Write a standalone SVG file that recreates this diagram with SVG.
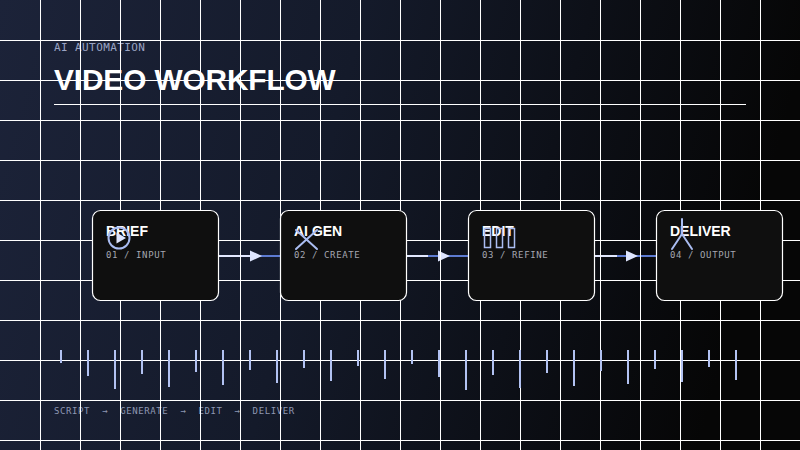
<svg xmlns="http://www.w3.org/2000/svg" width="800" height="450" viewBox="0 0 800 450">
  <defs>
    <linearGradient id="bg" x1="0" y1="0" x2="1" y2="0.15">
      <stop offset="0" stop-color="#1c2339"/>
      <stop offset="0.45" stop-color="#141a2a"/>
      <stop offset="1" stop-color="#060606"/>
    </linearGradient>
    <style>
      .grid line { stroke: #ffffff; stroke-width: 1; }
      .box { fill: #0f0f0f; stroke: #ffffff; stroke-width: 1.2; }
      .title { font-family: "Liberation Sans", Arial, sans-serif; font-weight: bold; font-size: 14px; fill: #ffffff; }
      .sub { font-family: "DejaVu Sans Mono", monospace; font-size: 9px; letter-spacing: 0.6px; fill: #a4a6b0; }
      .icon { stroke: #aabdf2; stroke-width: 2; fill: none; stroke-linecap: round; }
      .base { stroke: #5d7bd2; stroke-width: 2; }
      .pulse { stroke: #e2e8ff; stroke-width: 2; }
      .arrow { fill: #dfe6ff; }
      .bar { fill: #b2c2f2; }
    </style>
  </defs>

  <rect x="0" y="0" width="800" height="450" fill="url(#bg)"/>

  <text x="54" y="51" font-family="DejaVu Sans Mono, monospace" font-size="11" letter-spacing="0.4" fill="#9aa4c4">AI AUTOMATION</text>
  <text x="54" y="90" font-family="Liberation Sans, Arial, sans-serif" font-weight="bold" font-size="29.8" letter-spacing="-0.1" fill="#ffffff">VIDEO WORKFLOW</text>
  <line x1="54" y1="104.5" x2="746" y2="104.5" stroke="#ffffff" stroke-width="1"/>

  <g id="connectors">
    <line class="base" x1="218.5" y1="256" x2="280.5" y2="256"/>
    <line class="pulse" x1="219" y1="256" x2="251" y2="256"/>
    <polygon class="arrow" points="250,250.5 262,256 250,261.5"/>
    <line class="base" x1="406.5" y1="256" x2="468.5" y2="256"/>
    <line class="pulse" x1="407" y1="256" x2="428" y2="256"/>
    <polygon class="arrow" points="438,250.5 450,256 438,261.5"/>
    <line class="base" x1="594.5" y1="256" x2="656.5" y2="256"/>
    <line class="pulse" x1="595" y1="256" x2="617" y2="256"/>
    <polygon class="arrow" points="626,250.5 638,256 626,261.5"/>
  </g>

  <text x="54" y="414" font-family="DejaVu Sans Mono, monospace" font-size="9" letter-spacing="0.6" fill="#8e97b2" xml:space="preserve" style="white-space:pre">SCRIPT  →  GENERATE  →  EDIT  →  DELIVER</text>

  <g class="grid" id="grid">
    <line x1="40.5" y1="0" x2="40.5" y2="450"/>
    <line x1="80.5" y1="0" x2="80.5" y2="450"/>
    <line x1="120.5" y1="0" x2="120.5" y2="450"/>
    <line x1="160.5" y1="0" x2="160.5" y2="450"/>
    <line x1="200.5" y1="0" x2="200.5" y2="450"/>
    <line x1="240.5" y1="0" x2="240.5" y2="450"/>
    <line x1="280.5" y1="0" x2="280.5" y2="450"/>
    <line x1="320.5" y1="0" x2="320.5" y2="450"/>
    <line x1="360.5" y1="0" x2="360.5" y2="450"/>
    <line x1="400.5" y1="0" x2="400.5" y2="450"/>
    <line x1="440.5" y1="0" x2="440.5" y2="450"/>
    <line x1="480.5" y1="0" x2="480.5" y2="450"/>
    <line x1="520.5" y1="0" x2="520.5" y2="450"/>
    <line x1="560.5" y1="0" x2="560.5" y2="450"/>
    <line x1="600.5" y1="0" x2="600.5" y2="450"/>
    <line x1="640.5" y1="0" x2="640.5" y2="450"/>
    <line x1="680.5" y1="0" x2="680.5" y2="450"/>
    <line x1="720.5" y1="0" x2="720.5" y2="450"/>
    <line x1="760.5" y1="0" x2="760.5" y2="450"/>
    <line x1="0" y1="40.5" x2="800" y2="40.5"/>
    <line x1="0" y1="80.5" x2="800" y2="80.5"/>
    <line x1="0" y1="120.5" x2="800" y2="120.5"/>
    <line x1="0" y1="160.5" x2="800" y2="160.5"/>
    <line x1="0" y1="200.5" x2="800" y2="200.5"/>
    <line x1="0" y1="240.5" x2="800" y2="240.5"/>
    <line x1="0" y1="280.5" x2="800" y2="280.5"/>
    <line x1="0" y1="320.5" x2="800" y2="320.5"/>
    <line x1="0" y1="360.5" x2="800" y2="360.5"/>
    <line x1="0" y1="400.5" x2="800" y2="400.5"/>
    <line x1="0" y1="440.5" x2="800" y2="440.5"/>
  </g>

  <g id="bars">
    <rect class="bar" x="60" y="350" width="2" height="13"/>
    <rect class="bar" x="87" y="350" width="2" height="26"/>
    <rect class="bar" x="114" y="350" width="2" height="39"/>
    <rect class="bar" x="141" y="350" width="2" height="24"/>
    <rect class="bar" x="168" y="350" width="2" height="37"/>
    <rect class="bar" x="195" y="350" width="2" height="22"/>
    <rect class="bar" x="222" y="350" width="2" height="35"/>
    <rect class="bar" x="249" y="350" width="2" height="20"/>
    <rect class="bar" x="276" y="350" width="2" height="33"/>
    <rect class="bar" x="303" y="350" width="2" height="18"/>
    <rect class="bar" x="330" y="350" width="2" height="31"/>
    <rect class="bar" x="357" y="350" width="2" height="16"/>
    <rect class="bar" x="384" y="350" width="2" height="29"/>
    <rect class="bar" x="411" y="350" width="2" height="14"/>
    <rect class="bar" x="438" y="350" width="2" height="27"/>
    <rect class="bar" x="465" y="350" width="2" height="40"/>
    <rect class="bar" x="492" y="350" width="2" height="25"/>
    <rect class="bar" x="519" y="350" width="2" height="38"/>
    <rect class="bar" x="546" y="350" width="2" height="23"/>
    <rect class="bar" x="573" y="350" width="2" height="36"/>
    <rect class="bar" x="600" y="350" width="2" height="21"/>
    <rect class="bar" x="627" y="350" width="2" height="34"/>
    <rect class="bar" x="654" y="350" width="2" height="19"/>
    <rect class="bar" x="681" y="350" width="2" height="32"/>
    <rect class="bar" x="708" y="350" width="2" height="17"/>
    <rect class="bar" x="735" y="350" width="2" height="30"/>
  </g>

  <g id="node-brief">
    <rect class="box" x="92.5" y="210.5" width="126" height="90" rx="8"/>
    <text class="title" x="106" y="236">BRIEF</text>
    <text class="sub" x="106" y="258">01 / INPUT</text>
    <circle class="icon" cx="119" cy="238" r="10.5"/>
    <polygon points="116.5,232.5 116.5,243.5 126,238" fill="#dfe6ff"/>
  </g>

  <g id="node-aigen">
    <rect class="box" x="280.5" y="210.5" width="126" height="90" rx="8"/>
    <text class="title" x="294" y="236">AI GEN</text>
    <text class="sub" x="294" y="258">02 / CREATE</text>
    <line class="icon" x1="296" y1="230" x2="317" y2="249"/>
    <line class="icon" x1="296" y1="249" x2="317" y2="230"/>
  </g>

  <g id="node-edit">
    <rect class="box" x="468.5" y="210.5" width="126" height="90" rx="8"/>
    <text class="title" x="482" y="236">EDIT</text>
    <text class="sub" x="482" y="258">03 / REFINE</text>
    <rect x="484.5" y="228.5" width="6" height="19" fill="none" stroke="#aabdf2" stroke-width="1.5"/>
    <rect x="496.5" y="228.5" width="6" height="19" fill="none" stroke="#aabdf2" stroke-width="1.5"/>
    <rect x="508.5" y="228.5" width="6" height="19" fill="none" stroke="#aabdf2" stroke-width="1.5"/>
  </g>

  <g id="node-deliver">
    <rect class="box" x="656.5" y="210.5" width="126" height="90" rx="8"/>
    <text class="title" x="670" y="236">DELIVER</text>
    <text class="sub" x="670" y="258">04 / OUTPUT</text>
    <polyline class="icon" points="682,219 682,234"/>
    <polyline class="icon" points="672,249 682,234 692,249"/>
  </g>
</svg>
